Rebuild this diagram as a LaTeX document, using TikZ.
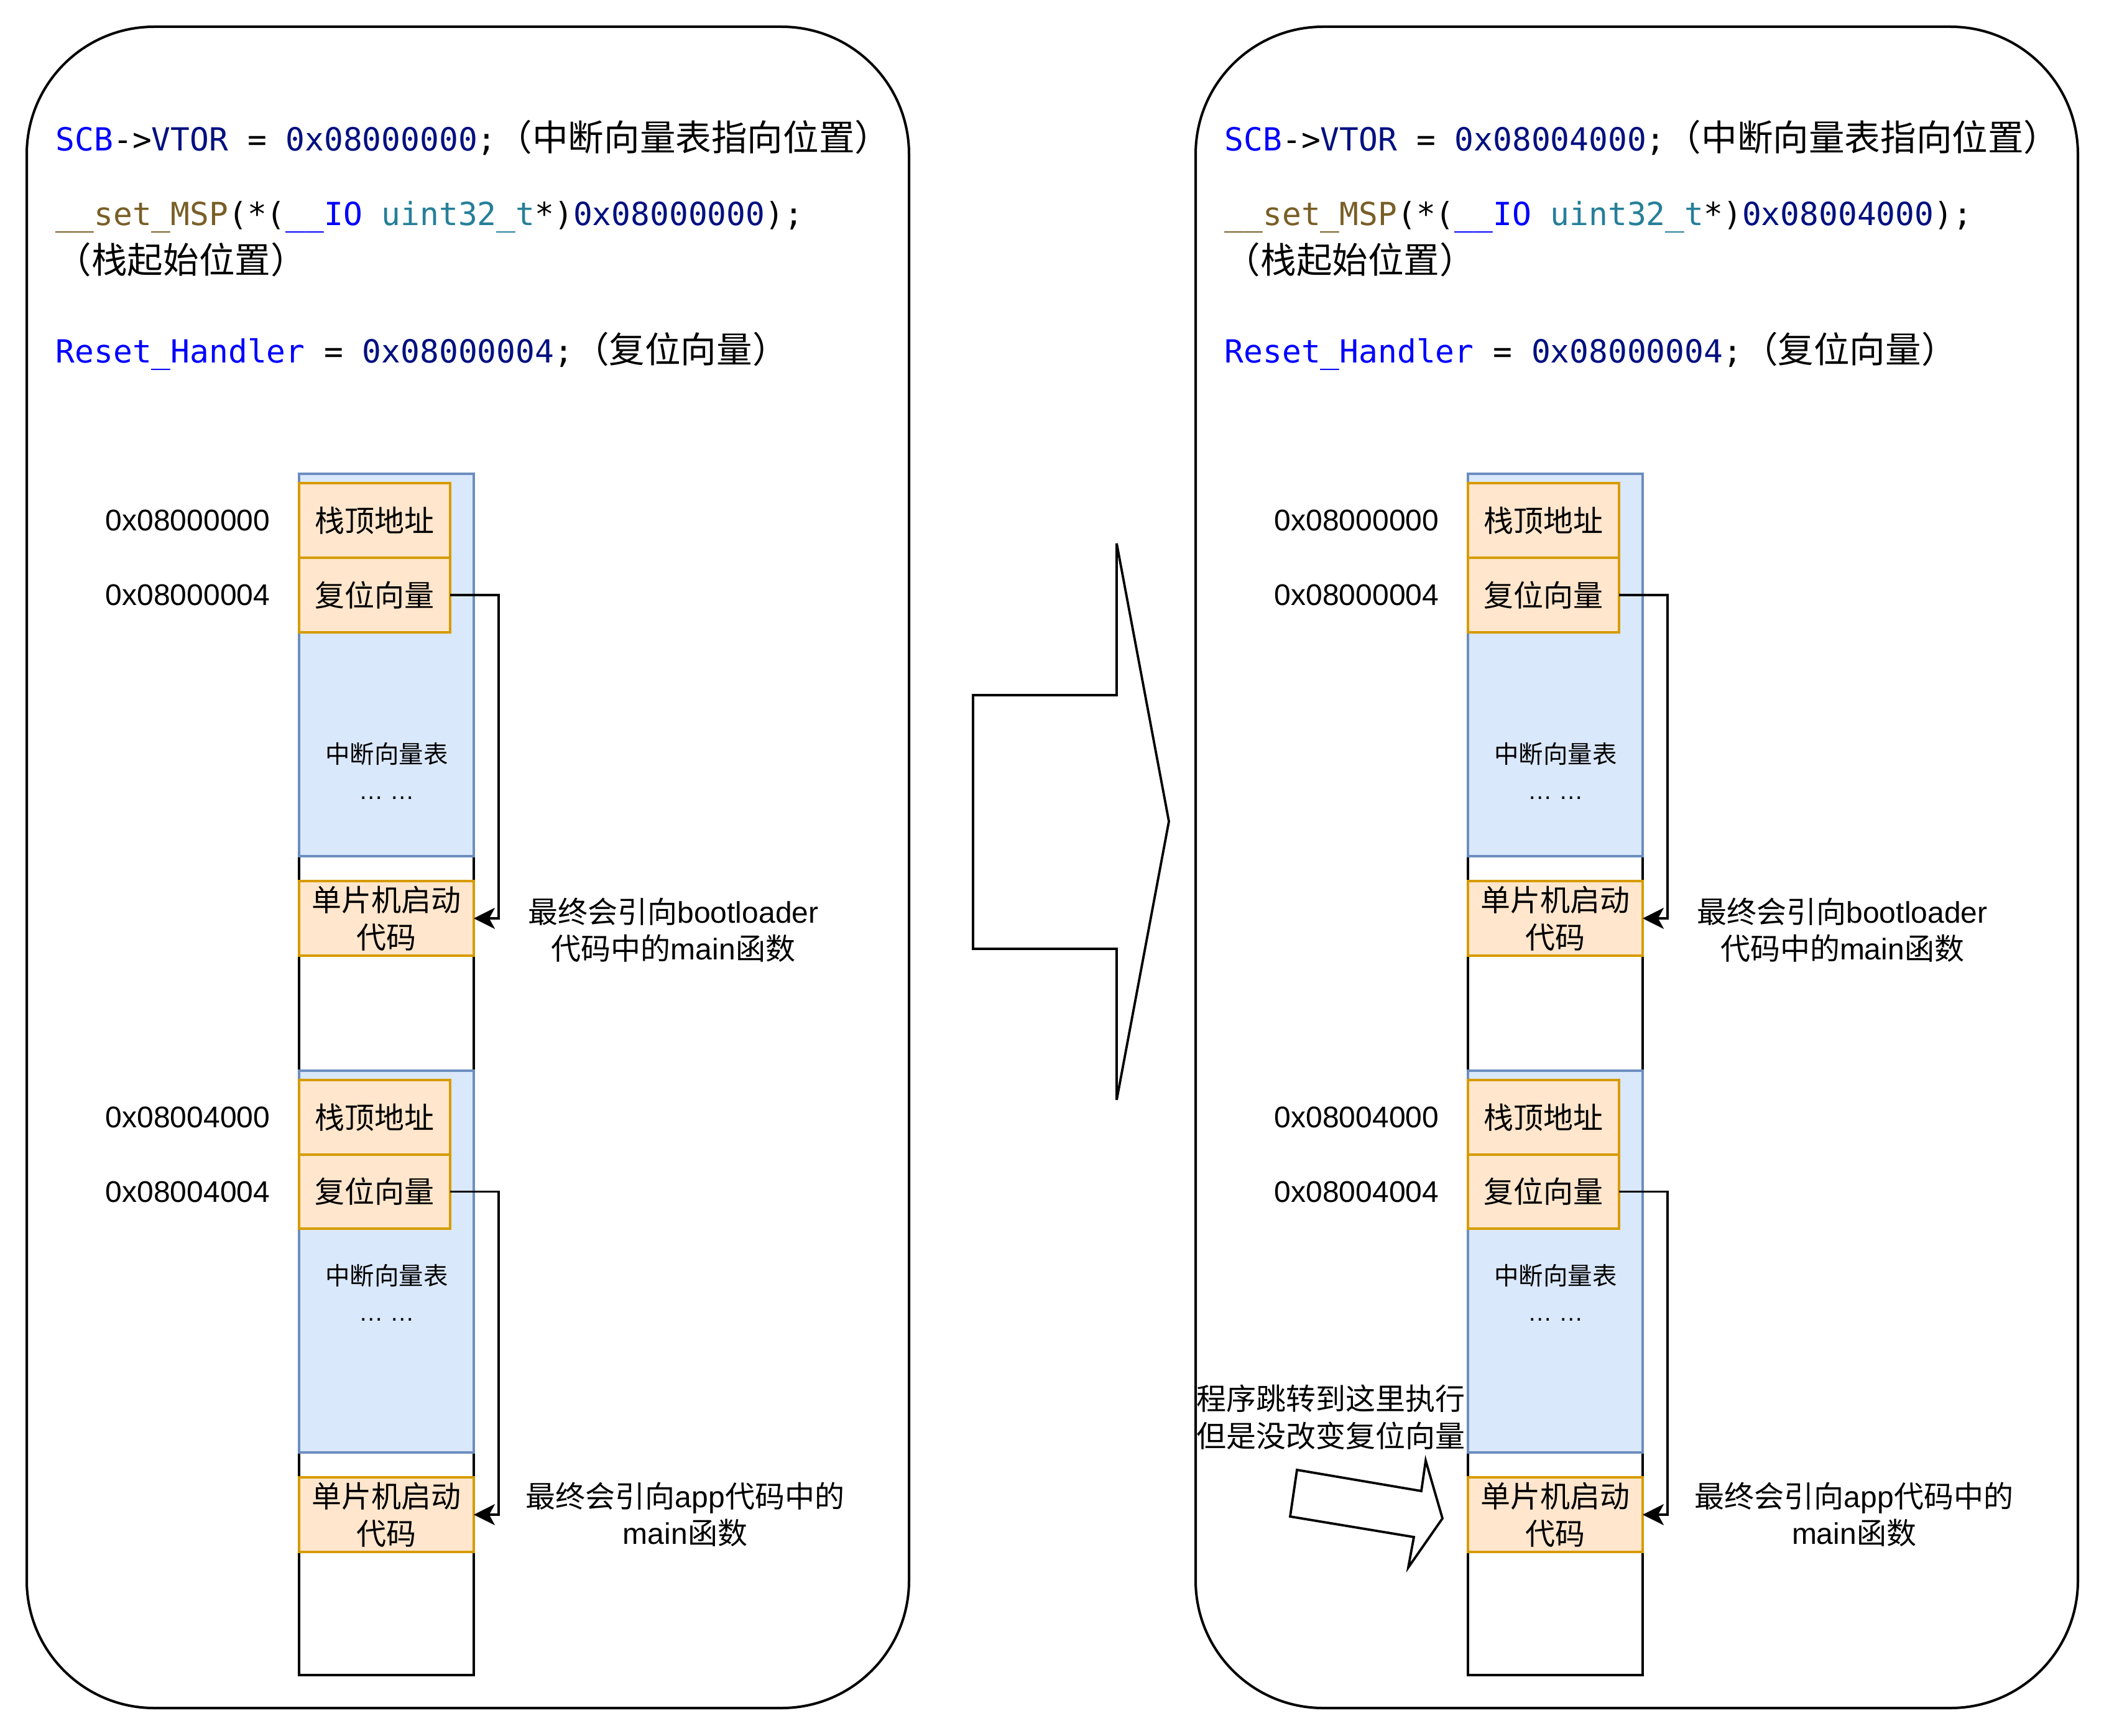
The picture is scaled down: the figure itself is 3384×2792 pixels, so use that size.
\documentclass[tikz,border=0pt]{standalone}
\usepackage{fontspec}
\setmainfont{Liberation Sans}
\setmonofont{DejaVu Sans Mono}
\newfontfamily\cjk{Noto Sans CJK SC}
\usetikzlibrary{arrows.meta}

\definecolor{memblue}{HTML}{DAE8FC}
\definecolor{memblueline}{HTML}{6C8EBF}
\definecolor{slotfill}{HTML}{FFE6CC}
\definecolor{slotline}{HTML}{D79B00}
\definecolor{kwblue}{HTML}{0000FF}
\definecolor{varnavy}{HTML}{001080}
\definecolor{fnbrown}{HTML}{795E26}
\definecolor{typeteal}{HTML}{267F99}

\newcommand\codefont{\fontsize{12.8pt}{15pt}\selectfont\ttfamily}
\newcommand\codecjk[1]{{\cjk\fontsize{14.4pt}{16pt}\selectfont #1}}

% rectangle node given by its corners in pixel units
\newcommand\pxnode[7][]{%
  \node[#1, minimum width={(#5-#3)*0.25pt}, minimum height={(#6-#4)*0.25pt}]
    (#2) at ({(#3+#5)/2},{(#4+#6)/2}) {#7};}

\tikzset{
  panelframe/.style={draw=black, line width=1pt, rounded corners=51.25pt, inner sep=0pt, outer sep=0pt},
  memcol/.style={draw=black, fill=white, line width=1pt, inner sep=0pt, outer sep=0pt},
  vtable/.style={draw=memblueline, fill=memblue, line width=1pt, inner sep=0pt, outer sep=0pt},
  memslot/.style={draw=slotline, fill=slotfill, line width=1pt, inner sep=0pt, outer sep=0pt,
    align=center, font=\cjk\fontsize{12pt}{15pt}\selectfont},
  codeline/.style={anchor=base west, inner sep=0pt, font=\codefont},
  addrlabel/.style={inner sep=0pt, font=\fontsize{12pt}{15pt}\selectfont},
  notelabel/.style={align=center, inner sep=0pt, font=\fontsize{12pt}{14.75pt}\selectfont},
  vtlabel/.style={inner sep=0pt, font=\fontsize{9.85pt}{12pt}\selectfont},
  linkarrow/.style={draw=black, line width=0.8pt, -{Stealth[length=8.5pt,width=8.5pt,inset=2.3pt]}},
  bigarrow/.style={draw=black, line width=0.95pt, fill=white, line join=miter},
}

% one memory map panel: #1 name prefix, #2 vector table / stack address
\newcommand\drawpanel[2]{%
  \pxnode[panelframe]{#1-frame}{43}{43}{1462}{2747}{}
  % code
  \node[codeline] (#1-vtor) at (89,243)
    {\textcolor{kwblue}{SCB}->\textcolor{varnavy}{VTOR} = \textcolor{varnavy}{#2};\codecjk{（中断向量表指向位置）}};
  \node[codeline] (#1-msp) at (89,363)
    {\textcolor{fnbrown}{\_\_set\_MSP}(*(\textcolor{kwblue}{\_\_IO} \textcolor{typeteal}{uint32\_t}*)\textcolor{varnavy}{#2});};
  \node[codeline] (#1-msp2) at (89,440) {\codecjk{（栈起始位置）}};
  \node[codeline] (#1-reset) at (89,584)
    {\textcolor{kwblue}{Reset\_Handler} = \textcolor{varnavy}{0x08000004};\codecjk{（复位向量）}};
  % memory column
  \pxnode[memcol]{#1-col}{481}{762}{762}{2694}{}
  \pxnode[vtable]{#1-vtA}{481}{762}{762}{1377}{}
  \pxnode[vtable]{#1-vtB}{481}{1722}{762}{2336}{}
  \pxnode[memslot]{#1-spA}{481}{777}{724}{897}{栈顶地址}
  \pxnode[memslot]{#1-rvA}{481}{897}{724}{1017}{复位向量}
  \pxnode[memslot]{#1-bootA}{481}{1417}{762}{1537}{单片机启动\\代码}
  \pxnode[memslot]{#1-spB}{481}{1737}{724}{1857}{栈顶地址}
  \pxnode[memslot]{#1-rvB}{481}{1857}{724}{1976}{复位向量}
  \pxnode[memslot]{#1-bootB}{481}{2376}{762}{2496}{单片机启动\\代码}
  \node[vtlabel, font=\cjk\fontsize{9.85pt}{12pt}\selectfont] (#1-vtnameA) at (622,1213) {中断向量表};
  \node[vtlabel, anchor=base] (#1-vtdotsA) at (622,1285) {… …};
  \node[vtlabel, font=\cjk\fontsize{9.85pt}{12pt}\selectfont] (#1-vtnameB) at (622,2052) {中断向量表};
  \node[vtlabel, anchor=base] (#1-vtdotsB) at (622,2124) {… …};
  % addresses
  \node[addrlabel] (#1-a0) at (302,837) {0x08000000};
  \node[addrlabel] (#1-a1) at (302,957) {0x08000004};
  \node[addrlabel] (#1-a2) at (302,1797) {0x08004000};
  \node[addrlabel] (#1-a3) at (302,1917) {0x08004004};
  % reset vector links
  \draw[linkarrow] (#1-rvA.east) -| ([xshift=10pt]#1-bootA.east) -- (#1-bootA.east);
  \draw[linkarrow] (#1-rvB.east) -| ([xshift=10pt]#1-bootB.east) -- (#1-bootB.east);
  \node[notelabel] (#1-noteA) at (1083,1496)
    {{\cjk 最终会引向}bootloader\\{\cjk 代码中的}main{\cjk 函数}};
  \node[notelabel] (#1-noteB) at (1102,2436)
    {{\cjk 最终会引向}app{\cjk 代码中的}\\main{\cjk 函数}};
}

\begin{document}
\begin{tikzpicture}[x=0.25pt, y=-0.25pt]
  \useasboundingbox[fill=white] (0,0) rectangle (3384,2792);

  \drawpanel{L}{0x08000000}
  \begin{scope}[xshift=470pt]
    \drawpanel{R}{0x08004000}
  \end{scope}

  % transition arrow between the two panels
  \draw[bigarrow] (1565,1118) -- (1796,1118) -- (1796,874) -- (1880,1321)
    -- (1796,1769) -- (1796,1526) -- (1565,1526) -- cycle;

  % jump note in the right panel
  \node[notelabel, font=\cjk\fontsize{12pt}{15pt}\selectfont] (R-jump) at (2140,2279)
    {程序跳转到这里执行\\但是没改变复位向量};
  \draw[bigarrow] (2086,2364) -- (2286,2398) -- (2293,2349) -- (2320,2442)
    -- (2265,2521) -- (2274,2472) -- (2075,2439) -- cycle;
\end{tikzpicture}
\end{document}
